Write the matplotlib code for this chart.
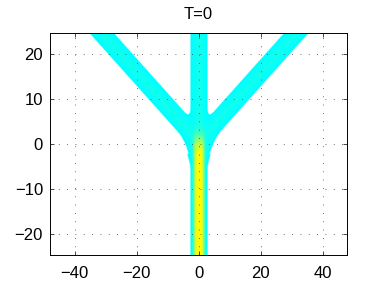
import numpy as np
import matplotlib
matplotlib.use('Agg')
import matplotlib.pyplot as plt
from matplotlib.colors import LinearSegmentedColormap

# ---- chart values ----
title_text = "T=0"
x_limits = [-48, 48]
y_limits = [-24.6, 24.6]
x_ticks = [-40, -20, 0, 20, 40]
y_ticks = [-20, -10, 0, 10, 20]

# geometry of the branched structure (data units)
stem_x = 0.0
stem_half_width = 2.75
branch_origin_x = 0.0
branch_origin_y = 0.5
branch_dir_x = [-1.3, 1.3]
branch_dir_y = [1.0, 1.0]
branch_half_width = 2.4
fillet_inner = 2.0
fillet_outer = 4.5

# colour levels (fraction of MATLAB-style jet colormap)
edge_color_level = 0.372
branch_peak_gain = 0.02
core_gain = 0.235
core_width = 1.7
core_start_y = 1.0
core_start_scale = 1.1

# ---- field ----
nx, ny = 961, 500
x = np.linspace(x_limits[0], x_limits[1], nx)
y = np.linspace(y_limits[0], y_limits[1], ny)
X, Y = np.meshgrid(x, y)


def smin(a, b, k):
    h = np.maximum(k - np.abs(a - b), 0) / k
    return np.minimum(a, b) - h * h * k / 4.0


D = np.abs(X - stem_x) - stem_half_width
for dx, dy in zip(branch_dir_x, branch_dir_y):
    n = np.hypot(dx, dy)
    ux, uy = dx / n, dy / n
    nxv, nyv = -np.sign(ux) * uy, abs(ux)
    px = X - branch_origin_x
    py = Y - branch_origin_y
    t = px * ux + py * uy
    tc = np.maximum(t, 0)
    perp = np.hypot(px - tc * ux, py - tc * uy)
    b = perp - branch_half_width
    side = px * nxv + py * nyv
    k = np.where(side > 0, fillet_inner, fillet_outer)
    D = smin(D, b, k)

depth = -D
C = (edge_color_level
     + branch_peak_gain * np.clip(depth / branch_half_width, 0, 1)
     + core_gain * np.exp(-((X - stem_x) / core_width) ** 4)
     / (1.0 + np.exp((Y - core_start_y) / core_start_scale)))
Cm = np.ma.masked_where(D > 0, C)

# ---- figure ----
plt.rcParams['font.family'] = ['Liberation Sans', 'DejaVu Sans']
fig = plt.figure(figsize=(3.84, 2.88), dpi=100)
ax = fig.add_axes([50 / 384, (288 - 255) / 288, 297.3 / 384, 221.7 / 288])

cmap = LinearSegmentedColormap.from_list(
    'matlab_jet',
    [(0.0, (0, 0, 0.5)), (0.125, (0, 0, 1)), (0.375, (0, 1, 1)),
     (0.625, (1, 1, 0)), (0.875, (1, 0, 0)), (1.0, (0.5, 0, 0))])
cmap.set_bad('white')
ax.imshow(Cm, extent=[x_limits[0], x_limits[1], y_limits[0], y_limits[1]],
          origin='lower', cmap=cmap, vmin=0, vmax=1, aspect='auto',
          interpolation='bilinear')

ax.set_xlim(x_limits)
ax.set_ylim(y_limits)
ax.set_xticks(x_ticks)
ax.set_yticks(y_ticks)
ax.set_axisbelow(False)
ax.grid(True, linestyle=(0, (1, 9)), color='0.25', linewidth=0.6)
ax.tick_params(direction='in', top=True, right=True, length=3, width=0.5,
               labelsize=12)
ax.tick_params(axis='x', pad=8)
ax.tick_params(axis='y', pad=5)
for s in ax.spines.values():
    s.set_linewidth(0.7)
ax.set_title(title_text, fontsize=12, pad=10.5)

fig.savefig('out.png', dpi=100)
